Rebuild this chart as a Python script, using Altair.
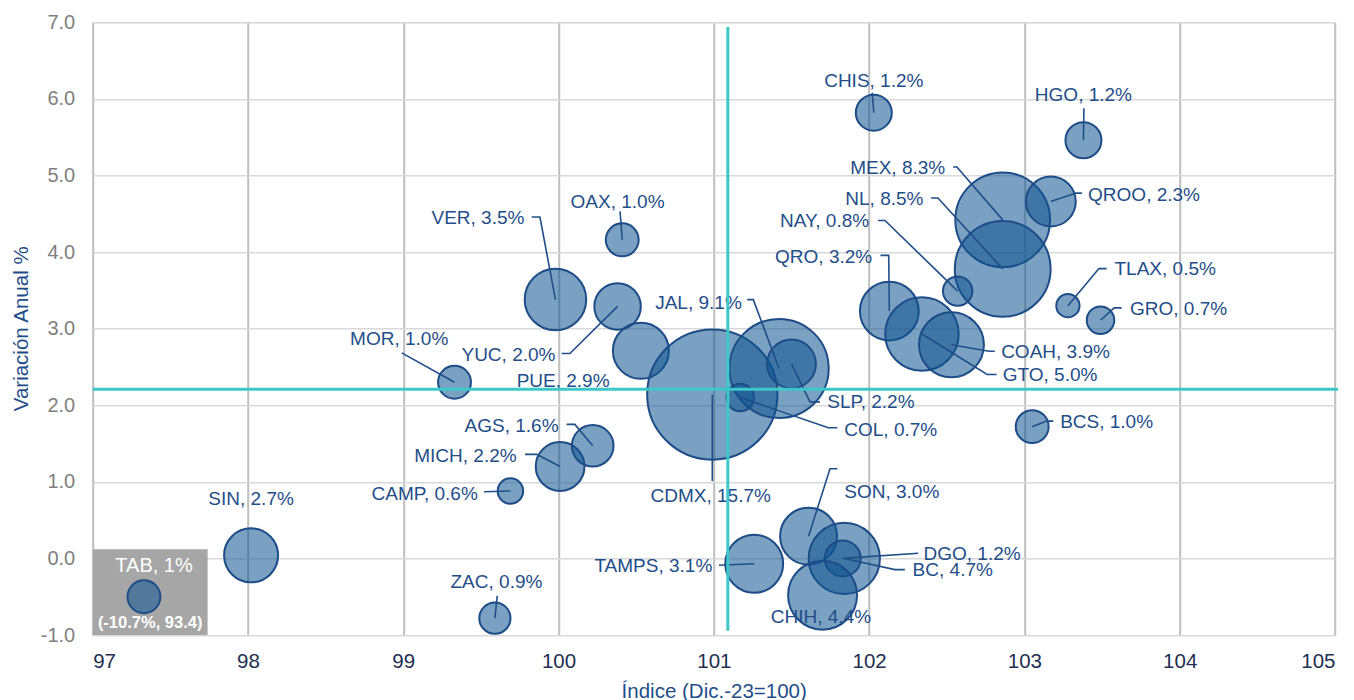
import altair as alt
import pandas as pd

# ---------------- data ----------------
states = ["TAB", "SIN", "ZAC", "CAMP", "MICH", "AGS", "MOR", "VER", "YUC", "OAX",
          "PUE", "CDMX", "JAL", "SLP", "COL", "CHIS", "HGO", "MEX", "QROO", "NL",
          "NAY", "QRO", "GTO", "COAH", "TLAX", "GRO", "BCS", "TAMPS", "SON", "BC",
          "DGO", "CHIH"]
indice = [97.33, 98.02, 99.59, 99.69, 100.01, 100.22, 99.33, 99.98, 100.38, 100.41,
          100.53, 100.99, 101.42, 101.50, 101.17, 102.03, 103.38, 102.86, 103.17, 102.86,
          102.57, 102.13, 102.34, 102.53, 103.28, 103.49, 103.05, 101.26, 101.61, 101.84,
          101.83, 101.70]
variacion = [-0.50, 0.04, -0.78, 0.88, 1.20, 1.47, 2.30, 3.38, 3.29, 4.16,
             2.71, 2.14, 2.48, 2.54, 2.10, 5.82, 5.46, 4.42, 4.66, 3.78,
             3.49, 3.23, 2.93, 2.79, 3.30, 3.11, 1.72, -0.07, 0.29, 0.00,
             0.00, -0.48]
peso = [1.0, 2.7, 0.9, 0.6, 2.2, 1.6, 1.0, 3.5, 2.0, 1.0,
        2.9, 15.7, 9.1, 2.2, 0.7, 1.2, 1.2, 8.3, 2.3, 8.5,
        0.8, 3.2, 5.0, 3.9, 0.5, 0.7, 1.0, 3.1, 3.0, 4.7,
        1.2, 4.4]

x_ticks = [97, 98, 99, 100, 101, 102, 103, 104, 105]
y_ticks = [-1, 0, 1, 2, 3, 4, 5, 6, 7]
mean_x = 101.09
mean_y = 2.21

# TAB outlier inset (true values)
tab_label = "TAB, 1%"
tab_true = "(-10.7%, 93.4)"

# label anchors (data units) and alignment
label_pos = {
    "SIN": (98.02, 0.77, "center"), "ZAC": (99.60, -0.31, "center"),
    "CAMP": (99.48, 0.84, "right"), "MICH": (99.73, 1.34, "right"),
    "AGS": (100.00, 1.73, "right"), "MOR": (99.29, 2.86, "right"),
    "VER": (99.78, 4.45, "right"), "YUC": (99.98, 2.66, "right"),
    "OAX": (100.38, 4.66, "center"), "PUE": (99.73, 2.31, "left"),
    "CDMX": (100.98, 0.82, "center"), "JAL": (101.18, 3.34, "right"),
    "SLP": (101.73, 2.04, "left"), "COL": (101.84, 1.68, "left"),
    "CHIS": (102.03, 6.23, "center"), "HGO": (103.38, 6.05, "center"),
    "MEX": (102.49, 5.10, "right"), "QROO": (103.41, 4.75, "left"),
    "NL": (102.35, 4.69, "right"), "NAY": (102.00, 4.40, "right"),
    "QRO": (102.02, 3.94, "right"), "GTO": (102.86, 2.39, "left"),
    "COAH": (102.85, 2.69, "left"), "TLAX": (103.58, 3.78, "left"),
    "GRO": (103.68, 3.26, "left"), "BCS": (103.23, 1.78, "left"),
    "TAMPS": (100.99, -0.10, "right"), "SON": (101.84, 0.87, "left"),
    "BC": (102.28, -0.15, "left"), "DGO": (102.35, 0.06, "left"),
    "CHIH": (101.69, -0.77, "center"),
}

# leader line bends (data units); the bubble centre is appended
leaders = {
    "ZAC": [(99.605, -0.49)], "CAMP": [(99.52, 0.87)],
    "MICH": [(99.784, 1.359), (99.859, 1.359)], "AGS": [(100.052, 1.75), (100.105, 1.75)],
    "MOR": [(98.99, 2.684)], "VER": [(99.827, 4.458), (99.88, 4.458)],
    "YUC": [(100.02, 2.675), (100.073, 2.675)], "OAX": [(100.396, 4.531)],
    "CDMX": [(100.99, 1.01)], "JAL": [(101.215, 3.379), (101.254, 3.379)],
    "SLP": [(101.683, 2.044), (101.619, 2.044)], "COL": [(101.795, 1.707), (101.737, 1.707)],
    "CHIS": [(102.02, 6.08)], "HGO": [(103.383, 5.879)],
    "MEX": [(102.541, 5.11), (102.565, 5.11)], "QROO": [(103.37, 4.77), (103.333, 4.77)],
    "NL": [(102.399, 4.705), (102.443, 4.705)], "NAY": [(102.058, 4.413), (102.102, 4.413)],
    "QRO": [(102.073, 3.957), (102.126, 3.957)], "GTO": [(102.821, 2.402), (102.76, 2.402)],
    "COAH": [(102.809, 2.705), (102.773, 2.705)], "TLAX": [(103.529, 3.784), (103.48, 3.784)],
    "GRO": [(103.626, 3.271), (103.578, 3.271)], "BCS": [(103.186, 1.793), (103.143, 1.793)],
    "TAMPS": [(101.033, -0.089)], "SON": [(101.795, 1.171), (101.748, 1.171)],
    "BC": [(102.23, -0.146), (102.166, -0.146)], "DGO": [(102.316, 0.068)],
}

# ---------------- tables ----------------
FONT = "Liberation Sans"
BLUE = "#1F4E89"
bubbles = pd.DataFrame({"estado": states, "x": indice, "y": variacion, "peso": peso})
centre = {s: (xv, yv) for s, xv, yv in zip(states, indice, variacion)}
wt = dict(zip(states, peso))

lab_rows = []
for s, (lx, ly, al) in label_pos.items():
    lab_rows.append({"x": lx, "y": ly, "align": al, "text": f"{s}, {wt[s]:.1f}%"})
labels = pd.DataFrame(lab_rows)

lead_rows = []
for s, pts in leaders.items():
    allp = list(pts) + [centre[s]]
    for i, (px, py) in enumerate(allp):
        lead_rows.append({"estado": s, "o": i, "x": px, "y": py})
lead_df = pd.DataFrame(lead_rows)

xs = alt.Scale(domain=[97, 105], nice=False, zero=False)
ys = alt.Scale(domain=[-1, 7], nice=False, zero=False)

x_axis = alt.Axis(values=x_ticks, format="d", title="Índice (Dic.-23=100)",
                  labelFontSize=20.5, labelColor="#1F3050", labelPadding=16, labelFont=FONT,
                  grid=True, gridColor="#BFBFBF", gridWidth=2, domain=False, ticks=False,
                  titleFontSize=20.5, titleColor=BLUE, titleFontWeight="normal", titleFont=FONT,
                  titleX=621, titleY=62, titleBaseline="alphabetic", titleAlign="center")
y_axis = alt.Axis(values=y_ticks,
                  labelExpr="datum.value < 0 ? '-' + format(-datum.value, '.1f') : format(datum.value, '.1f')",
                  labelFontSize=20, labelColor="#7F7F7F", labelPadding=18, labelFont=FONT,
                  grid=True, gridColor="#D9D9D9", gridWidth=1.5, domain=False, ticks=False,
                  title="Variación Anual %", titleFontSize=20.5, titleColor=BLUE,
                  titleFontWeight="normal", titleFont=FONT, titleX=-71, titleY=306,
                  titleAngle=270, titleBaseline="middle", titleAlign="center")

# TAB inset box
box = alt.Chart(pd.DataFrame({"x": [97.0], "x2": [97.74], "y": [-1.0], "y2": [0.12]})).mark_rect(
    color="#A6A6A6").encode(
    x=alt.X("x:Q", scale=xs, axis=x_axis), x2="x2:Q",
    y=alt.Y("y:Q", scale=ys, axis=y_axis), y2="y2:Q")

circles = alt.Chart(bubbles).mark_circle(
    fill="#0F5490", fillOpacity=0.55, stroke="#1D4C88", strokeWidth=2, strokeOpacity=1
).encode(
    x=alt.X("x:Q", scale=xs),
    y=alt.Y("y:Q", scale=ys),
    size=alt.Size("peso:Q", scale=alt.Scale(type="linear", domain=[0, 15.7], range=[0, 16972]),
                  legend=None),
)

lead = alt.Chart(lead_df).mark_line(color=BLUE, strokeWidth=1.6).encode(
    x=alt.X("x:Q", scale=xs), y=alt.Y("y:Q", scale=ys), detail="estado:N", order="o:Q")

text_layers = []
for al in ["left", "right", "center"]:
    text_layers.append(
        alt.Chart(labels).transform_filter(alt.datum.align == al).mark_text(
            align=al, baseline="middle", font=FONT, fontSize=19, color=BLUE
        ).encode(x=alt.X("x:Q", scale=xs), y=alt.Y("y:Q", scale=ys), text="text:N"))

tab_txt = alt.Chart(pd.DataFrame({"x": [97.395], "y": [-0.10], "t": [tab_label]})).mark_text(
    align="center", baseline="middle", font=FONT, fontSize=20, color="white"
).encode(x=alt.X("x:Q", scale=xs), y=alt.Y("y:Q", scale=ys), text="t:N")
tab_true_txt = alt.Chart(pd.DataFrame({"x": [97.37], "y": [-0.845], "t": [tab_true]})).mark_text(
    align="center", baseline="middle", font=FONT, fontSize=16.5, fontWeight="bold", color="white"
).encode(x=alt.X("x:Q", scale=xs), y=alt.Y("y:Q", scale=ys), text="t:N")

means = pd.DataFrame({"x": [mean_x, 97.0], "x2": [mean_x, 105.02],
                      "y": [-0.945, mean_y], "y2": [6.94, mean_y]})
mean_lines = alt.Chart(means).mark_rule(color="#3CC8C8", strokeWidth=3).encode(
    x=alt.X("x:Q", scale=xs), x2="x2:Q", y=alt.Y("y:Q", scale=ys), y2="y2:Q")

chart = alt.layer(box, circles, lead, *text_layers, tab_txt, tab_true_txt, mean_lines).properties(
    width=1242.3, height=612.7,
    autosize=alt.AutoSizeParams(type="none"),
    padding={"left": 84.7, "top": 14.3, "right": 10, "bottom": 72},
).configure_view(stroke=None).configure(background="white")

chart.save("out.html", embed_options={"renderer": "svg", "actions": False})
